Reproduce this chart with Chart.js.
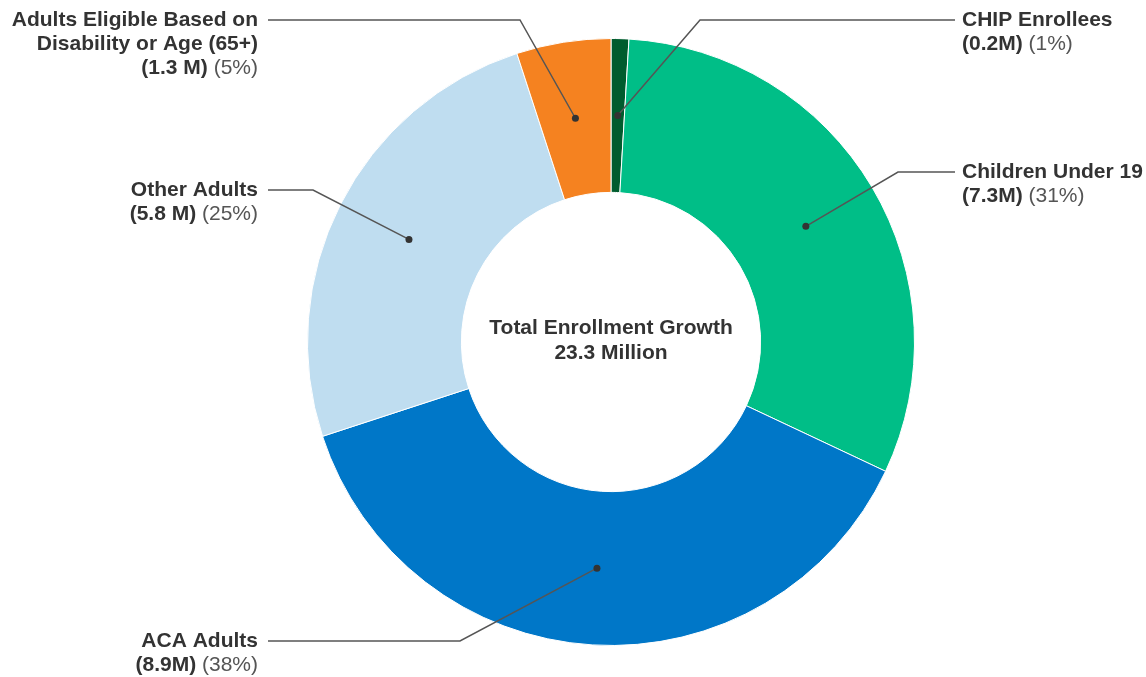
<!DOCTYPE html>
<html>
<head>
<meta charset="utf-8">
<script src="https://cdn.jsdelivr.net/npm/chart.js@4"></script>
<style>
html,body{margin:0;padding:0;background:#fff;}
canvas{display:block;}
</style>
</head>
<body>
<canvas id="c" width="1146" height="677"></canvas>
<script>
const categories = ["CHIP Enrollees", "Children Under 19", "ACA Adults", "Other Adults", "Adults Eligible Based on Disability or Age (65+)"];
const values = [0.22, 7.24, 8.85, 5.83, 1.17];
const valueLabels = ["(0.2M)", "(7.3M)", "(8.9M)", "(5.8 M)", "(1.3 M)"];
const percentLabels = ["(1%)", "(31%)", "(38%)", "(25%)", "(5%)"];
const colors = ["#005C2E", "#00BE87", "#0077C8", "#BFDDF0", "#F58220"];
const centerTitle = ["Total Enrollment Growth", "23.3 Million"];

// label layout (positions only)
const labelLayout = [
  {side: "right", lines: ["CHIP Enrollees"], y: 20, elbowX: 700},
  {side: "right", lines: ["Children Under 19"], y: 172, elbowX: 898},
  {side: "left", lines: ["ACA Adults"], y: 641, elbowX: 460},
  {side: "left", lines: ["Other Adults"], y: 190, elbowX: 313},
  {side: "left", lines: ["Adults Eligible Based on", "Disability or Age (65+)"], y: 20, elbowX: 520}
];
const FONT = '"Liberation Sans", Arial, sans-serif';
const FS = 21;

const leaderPlugin = {
  id: 'leaders',
  afterDraw(chart) {
    const ctx = chart.ctx;
    const meta = chart.getDatasetMeta(0);
    ctx.save();
    meta.data.forEach((arc, i) => {
      const L = labelLayout[i];
      const p = arc.getProps(['x','y','startAngle','endAngle','innerRadius','outerRadius'], true);
      const mid = (p.startAngle + p.endAngle) / 2;
      const r = (p.innerRadius + p.outerRadius) / 2;
      const dx = p.x + Math.cos(mid) * r;
      const dy = p.y + Math.sin(mid) * r;
      const lineEnd = L.side === "right" ? 955 : 268;
      const textX = L.side === "right" ? 962 : 258;
      ctx.strokeStyle = "#555";
      ctx.lineWidth = 1.5;
      ctx.beginPath();
      ctx.moveTo(dx, dy);
      ctx.lineTo(L.elbowX, L.y);
      ctx.lineTo(lineEnd, L.y);
      ctx.stroke();
      ctx.fillStyle = "#333";
      ctx.beginPath();
      ctx.arc(dx, dy, 3.5, 0, Math.PI * 2);
      ctx.fill();
      ctx.textBaseline = "middle";
      const lh = 24;
      let y = L.y;
      ctx.textAlign = L.side === "right" ? "left" : "right";
      L.lines.forEach(t => {
        ctx.font = "bold " + FS + "px " + FONT;
        ctx.fillStyle = "#333";
        ctx.fillText(t, textX, y);
        y += lh;
      });
      ctx.textAlign = "left";
      ctx.font = "bold " + FS + "px " + FONT;
      const v = valueLabels[i];
      const vw = ctx.measureText(v + " ").width;
      ctx.font = FS + "px " + FONT;
      const pc = percentLabels[i];
      const pw = ctx.measureText(pc).width;
      let startX = L.side === "right" ? textX : textX - vw - pw;
      ctx.font = "bold " + FS + "px " + FONT;
      ctx.fillStyle = "#333";
      ctx.fillText(v, startX, y);
      ctx.font = FS + "px " + FONT;
      ctx.fillStyle = "#555";
      ctx.fillText(pc, startX + vw, y);
    });
    const a0 = meta.data[0];
    ctx.font = "bold " + FS + "px " + FONT;
    ctx.fillStyle = "#333";
    ctx.textAlign = "center";
    ctx.textBaseline = "middle";
    ctx.fillText(centerTitle[0], a0.x, 328);
    ctx.fillText(centerTitle[1], a0.x, 353);
    ctx.restore();
  }
};

new Chart(document.getElementById('c'), {
  type: 'doughnut',
  data: {
    labels: categories,
    datasets: [{
      data: values,
      backgroundColor: colors,
      borderColor: "#ffffff",
      borderWidth: 1,
      hoverOffset: 0
    }]
  },
  options: {
    responsive: false,
    animation: false,
    cutout: '49.3%',
    layout: {padding: {left: 307, right: 231, top: 38, bottom: 31}},
    plugins: {legend: {display: false}, tooltip: {enabled: false}}
  },
  plugins: [leaderPlugin]
});
</script>
</body>
</html>
